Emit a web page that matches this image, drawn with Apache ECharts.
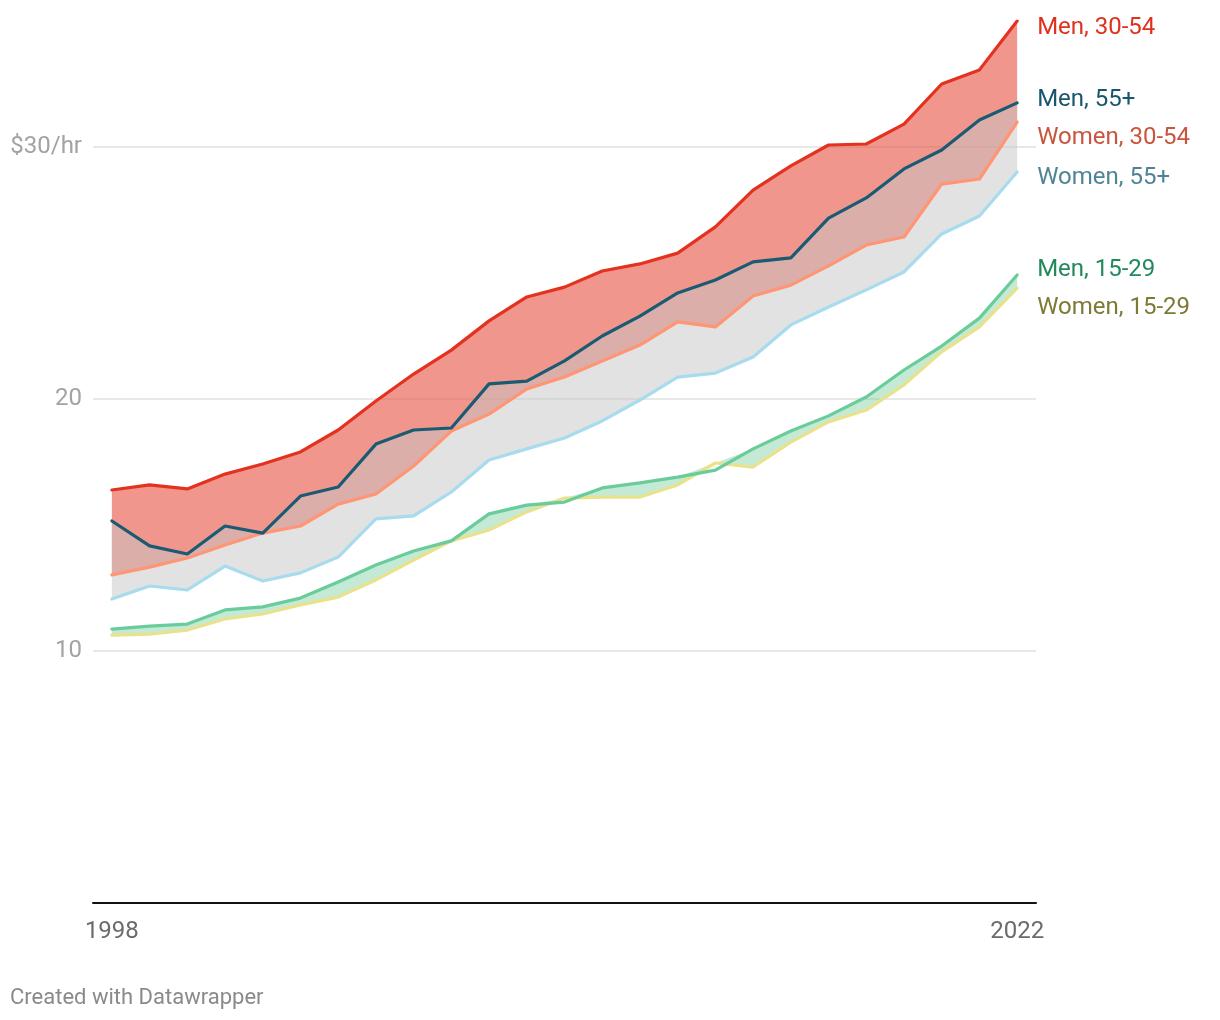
<!DOCTYPE html>
<html>
<head>
<meta charset="utf-8">
<script src="https://cdn.jsdelivr.net/npm/echarts@6/dist/echarts.min.js"></script>
<style>
html,body{margin:0;padding:0;background:#fff;}
#chart{width:1220px;height:1020px;}
</style>
</head>
<body>
<div id="chart"></div>
<script>
const years = ['1998','1999','2000','2001','2002','2003','2004','2005','2006','2007','2008','2009','2010','2011','2012','2013','2014','2015','2016','2017','2018','2019','2020','2021','2022'];
const men3054 = [16.39,16.59,16.43,17.02,17.42,17.90,18.77,19.92,20.99,21.94,23.10,24.05,24.44,25.08,25.36,25.79,26.83,28.29,29.25,30.08,30.12,30.91,32.50,33.06,35.00];
const men55 = [15.16,14.17,13.85,14.96,14.68,16.15,16.51,18.21,18.77,18.85,20.60,20.71,21.51,22.50,23.29,24.21,24.72,25.44,25.60,27.18,27.98,29.13,29.88,31.07,31.75];
const women3054 = [13.02,13.33,13.69,14.21,14.68,14.96,15.83,16.23,17.34,18.73,19.40,20.40,20.87,21.51,22.14,23.06,22.86,24.09,24.52,25.28,26.11,26.43,28.53,28.73,30.99];
const women55 = [12.06,12.58,12.42,13.37,12.78,13.10,13.73,15.24,15.36,16.31,17.58,18.02,18.45,19.13,19.96,20.87,21.03,21.67,22.94,23.65,24.33,25.04,26.55,27.26,29.01];
const men1529 = [10.87,10.99,11.07,11.63,11.75,12.10,12.74,13.41,13.97,14.37,15.44,15.79,15.91,16.47,16.67,16.90,17.18,18.02,18.73,19.33,20.08,21.15,22.10,23.21,24.92];
const women1529 = [10.63,10.67,10.83,11.27,11.47,11.83,12.14,12.82,13.61,14.37,14.80,15.52,16.07,16.11,16.11,16.59,17.46,17.30,18.29,19.09,19.56,20.56,21.87,22.86,24.40];
const yTickLabels = {10: '10', 20: '20', 30: '$30/hr'};

const diff = (a, b, clampZero) => a.map((v, i) => {
  const d = +(v - b[i]).toFixed(4);
  return clampZero ? Math.max(0, d) : d;
});

function baseSeries(stack, data) {
  return { type: 'line', stack: stack, data: data, symbol: 'none', silent: true,
    lineStyle: { width: 0, opacity: 0 }, z: 1 };
}
function fillSeries(stack, data, color) {
  return { type: 'line', stack: stack, data: data, symbol: 'none', silent: true,
    lineStyle: { width: 0, opacity: 0 }, areaStyle: { color: color, opacity: 1 }, z: 1 };
}
function lineSeries(name, data, color, labelColor, dy, z) {
  return { name: name, type: 'line', data: data, symbol: 'none', silent: true, z: z,
    lineStyle: { color: color, width: 3.2, join: 'round', cap: 'round' },
    endLabel: { show: true, formatter: name, color: labelColor, fontSize: 24,
      fontFamily: 'Roboto', distance: 20, offset: [0, dy] } };
}

const chart = echarts.init(document.getElementById('chart'), null, { renderer: 'canvas' });
chart.setOption({
  animation: false,
  backgroundColor: '#ffffff',
  textStyle: { fontFamily: 'Roboto' },
  grid: { left: 93, right: 184, top: 21, bottom: 117, outerBoundsMode: 'none' },
  xAxis: {
    type: 'category', data: years, boundaryGap: true,
    axisLine: { show: true, onZero: false, lineStyle: { color: '#111', width: 2 } },
    axisTick: { show: false },
    axisLabel: { color: '#6b6b6b', fontSize: 24, margin: 17,
      interval: (i) => i === 0 || i === years.length - 1 },
    splitLine: { show: false }
  },
  yAxis: {
    type: 'value', min: 0, max: 35, interval: 10,
    axisLine: { show: false }, axisTick: { show: false },
    axisLabel: { color: '#a3a3a3', fontSize: 24, margin: 11, padding: [4, 0, 0, 0],
      showMaxLabel: false, showMinLabel: false,
      formatter: (v) => yTickLabels[v] || '' },
    splitLine: { show: true, showMinLine: false, showMaxLine: false,
      lineStyle: { color: '#e0e0e0', width: 1.5 } }
  },
  series: [
    baseSeries('red', women3054),
    fillSeries('red', diff(men3054, women3054, false), 'rgba(230,80,63,0.6)'),
    baseSeries('gray', women55),
    fillSeries('gray', diff(men55, women55, false), 'rgba(197,197,197,0.5)'),
    baseSeries('green', women1529),
    fillSeries('green', diff(men1529, women1529, true), 'rgba(108,203,153,0.4)'),
    lineSeries('Women, 15-29', women1529, '#e9e28c', '#7d7a35', 20, 5),
    lineSeries('Men, 15-29', men1529, '#6acc9b', '#23895c', -5, 6),
    lineSeries('Women, 55+', women55, '#a7dbee', '#4f8496', 6, 7),
    lineSeries('Women, 30-54', women3054, '#ff9574', '#c8553d', 16, 8),
    lineSeries('Men, 55+', men55, '#1b5a73', '#1a5570', -3, 9),
    lineSeries('Men, 30-54', men3054, '#e3321f', '#e0301e', 7, 10)
  ],
  graphic: [{
    type: 'text', left: 10, top: 987,
    style: { text: 'Created with Datawrapper', fill: '#8a8a8a', fontSize: 22, fontFamily: 'Roboto' }
  }]
});
</script>
</body>
</html>
